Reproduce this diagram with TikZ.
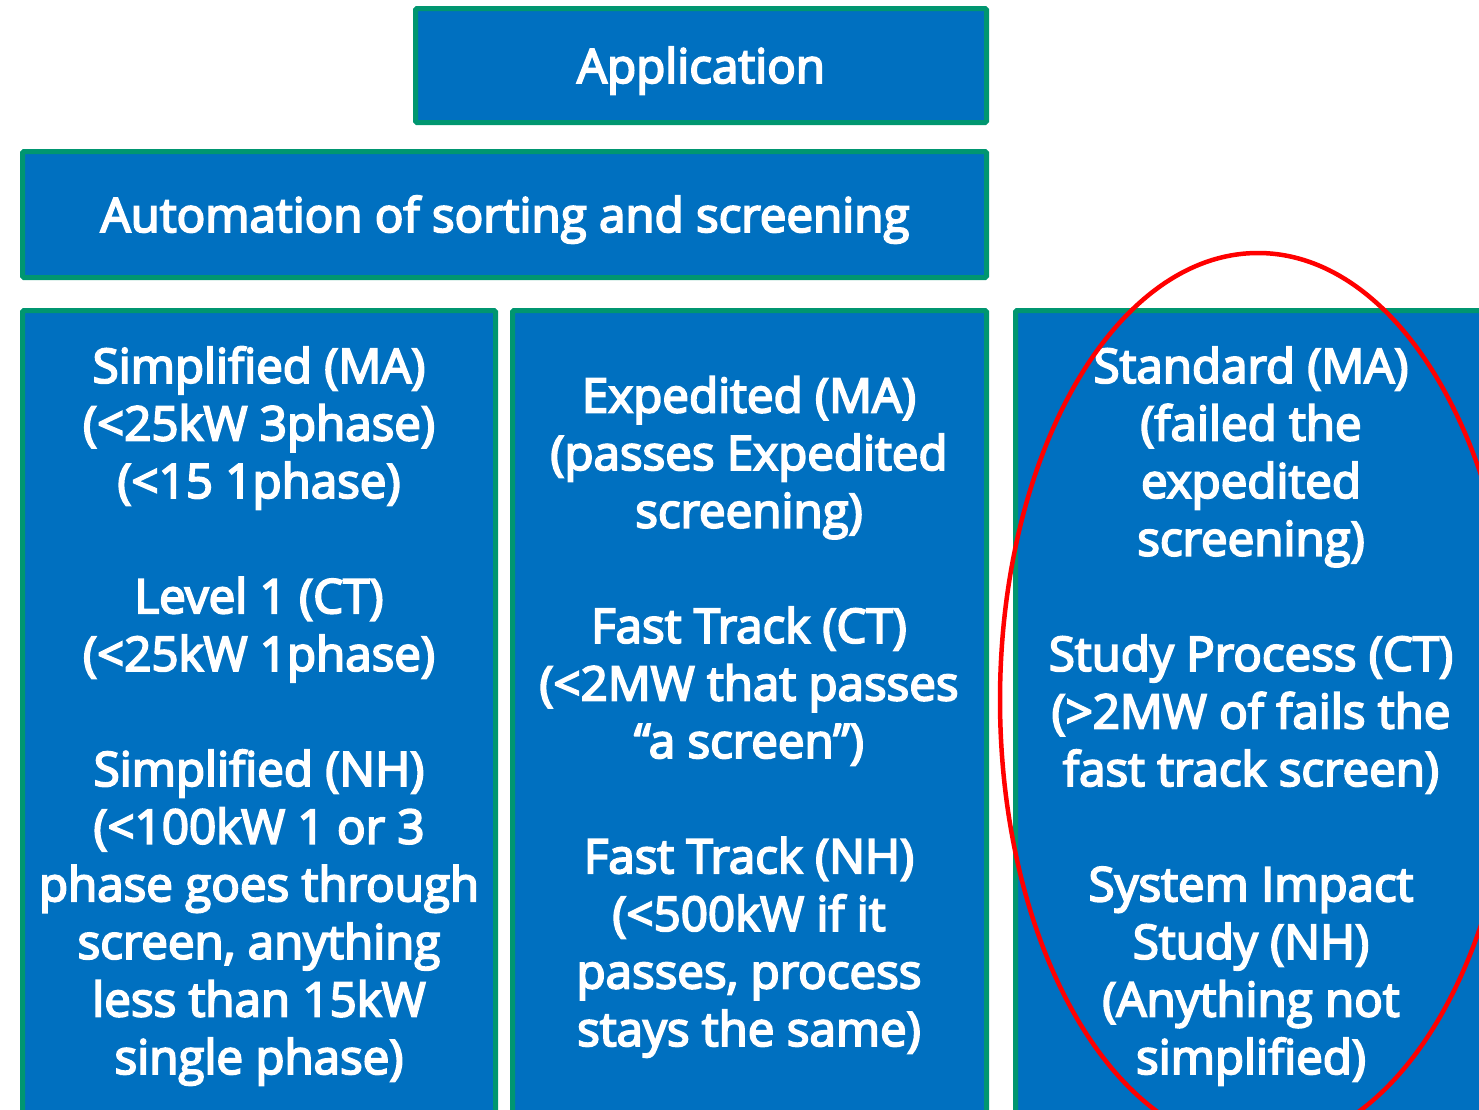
\documentclass[tikz,border=0pt]{standalone}
\usepackage{fontspec}
\newfontfamily\dfont{Open Sans}[FakeBold=4]
\definecolor{boxblue}{RGB}{0,112,192}
\definecolor{boxgreen}{RGB}{0,150,112}
\begin{document}
\begin{tikzpicture}[x=1pt,y=-1pt,
  box/.style={draw=boxgreen, fill=boxblue, line width=5pt, rounded corners=1.5pt, inner sep=0pt},
  lbl/.style={text=white, font=\dfont\fontsize{47.5}{57.6}\selectfont, align=center, inner sep=0pt, anchor=base},
  mark ring/.style={draw=red, line width=4.5pt}]
\useasboundingbox (0,0) rectangle (1479,1109);
\clip (0,0) rectangle (1479,1109);
% boxes
\node[box, minimum width=571pt, minimum height=114pt] (app) at (701,65.5) {};
\node[box, minimum width=964pt, minimum height=126pt] (auto) at (504.5,214.5) {};
\node[box, minimum width=473pt, minimum height=804pt] (c1) at (259,712.5) {};
\node[box, minimum width=474pt, minimum height=804pt] (c2) at (749.5,712.5) {};
\node[box, minimum width=471pt, minimum height=804pt] (c3) at (1251,712.5) {};
% texts (base anchor = baseline of the last line)
\node[lbl] (appt) at (701,83) {Application};
\node[lbl] (autot) at (505,232) {Automation of sorting and screening};
\node[lbl] (c1t) at (259,1074) {Simplified (MA)\\(<25kW 3phase)\\(<15 1phase)\\[57.6pt]Level 1 (CT)\\(<25kW 1phase)\\[57.6pt]Simplified (NH)\\(<100kW 1 or 3\\phase goes through\\screen, anything\\less than 15kW\\single phase)};
\node[lbl] (c2t) at (749,1046) {Expedited (MA)\\(passes Expedited\\screening)\\[57.6pt]Fast Track (CT)\\(<2MW that passes\\“a screen”)\\[57.6pt]Fast Track (NH)\\(<500kW if it\\passes, process\\stays the same)};
\node[lbl] (c3t) at (1251,1074) {Standard (MA)\\(failed the\\expedited\\screening)\\[57.6pt]Study Process (CT)\\(>2MW of fails the\\fast track screen)\\[57.6pt]System Impact\\Study (NH)\\(Anything not\\simplified)};
% red ellipse
\coordinate (ring) at (1258,700);
\draw[mark ring] (ring) ellipse [x radius=258, y radius=447];
\end{tikzpicture}
\end{document}
